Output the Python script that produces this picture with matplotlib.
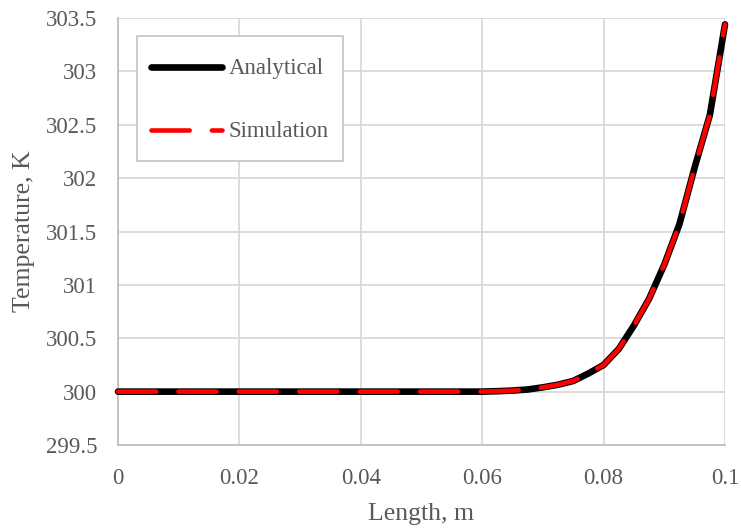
import matplotlib
matplotlib.use("Agg")
import matplotlib.pyplot as plt
import numpy as np
from matplotlib.legend_handler import HandlerLine2D

# ---- data ----
length_m = [0.0, 0.01, 0.02, 0.03, 0.04, 0.05, 0.06, 0.0625, 0.065, 0.0675, 0.07,
            0.0725, 0.075, 0.0775, 0.08, 0.0825, 0.085, 0.0875, 0.09, 0.0925,
            0.095, 0.0975, 0.1]
analytical_K = [300.0, 300.0, 300.0, 300.0, 300.0, 300.0, 300.0, 300.004, 300.01,
                300.02, 300.04, 300.065, 300.1, 300.17, 300.25, 300.4, 300.62,
                300.87, 301.19, 301.57, 302.1, 302.59, 303.44]
simulation_K = [300.0, 300.0, 300.0, 300.0, 300.0, 300.0, 300.0, 300.004, 300.01,
                300.02, 300.04, 300.065, 300.1, 300.17, 300.25, 300.4, 300.62,
                300.87, 301.19, 301.57, 302.1, 302.59, 303.44]
x_ticks = [0, 0.02, 0.04, 0.06, 0.08, 0.1]
x_tick_labels = ["0", "0.02", "0.04", "0.06", "0.08", "0.1"]
y_ticks = [299.5, 300, 300.5, 301, 301.5, 302, 302.5, 303, 303.5]
y_tick_labels = ["299.5", "300", "300.5", "301", "301.5", "302", "302.5", "303", "303.5"]

plt.rcParams['font.family'] = ['Liberation Serif', 'DejaVu Serif']
plt.rcParams['lines.scale_dashes'] = False

text_color = "#595959"
grid_color = "#D9D9D9"


class ShiftedLineHandler(HandlerLine2D):
    """Line legend handler that nudges the handle down to the text's mid-height."""
    def __init__(self, shift=3.5, **kw):
        super().__init__(**kw)
        self.shift = shift

    def create_artists(self, legend, orig_handle, xdescent, ydescent, width,
                       height, fontsize, trans):
        artists = super().create_artists(legend, orig_handle, xdescent, ydescent,
                                         width, height, fontsize, trans)
        for a in artists:
            a.set_ydata(np.asarray(a.get_ydata(), dtype=float) - self.shift)
        return artists


fig = plt.figure(figsize=(7.41, 5.29), dpi=100)
ax = fig.add_axes([118/741, 1 - 445/529, (725-118)/741, (445-18)/529])

l1, = ax.plot(length_m, analytical_K, color="black", lw=4.8, solid_capstyle="round",
              solid_joinstyle="round", label="Analytical", clip_on=False, zorder=3)
l2, = ax.plot(length_m, simulation_K, color="#FF0000", lw=3.3, dash_capstyle="round",
              dash_joinstyle="round", linestyle=(0, (27.5, 16.0)), label="Simulation",
              clip_on=False, zorder=4)

ax.set_xlim(0, 0.1)
ax.set_ylim(299.5, 303.5)
ax.set_xticks(x_ticks)
ax.set_xticklabels(x_tick_labels)
ax.set_yticks(y_ticks)
ax.set_yticklabels(y_tick_labels)

ax.grid(True, color=grid_color, lw=1.3, zorder=0)
ax.set_axisbelow(True)
for s in ["top", "right"]:
    ax.spines[s].set_visible(False)
for s in ["left", "bottom"]:
    ax.spines[s].set_color("#BFBFBF")
    ax.spines[s].set_linewidth(1.3)

ax.tick_params(axis="both", length=0, labelsize=16.5, labelcolor=text_color)
ax.tick_params(axis="y", pad=15)
ax.tick_params(axis="x", pad=16.5)

ax.set_xlabel("Length, m", fontsize=18.5, color=text_color, labelpad=10)
ax.set_ylabel("Temperature, K", fontsize=18.5, color=text_color, labelpad=8)

leg = ax.legend(handles=[l1, l2], loc="upper left", bbox_to_anchor=(0.031, 0.958),
                borderaxespad=0, fontsize=16.5, frameon=True, fancybox=False,
                framealpha=1, edgecolor="#C8C8C8", handlelength=3.1,
                handletextpad=0.3, handleheight=1.9, labelspacing=1.25,
                borderpad=0.62,
                handler_map={l1: ShiftedLineHandler(3.5), l2: ShiftedLineHandler(3.5)})
leg.get_frame().set_linewidth(1.3)
for t in leg.get_texts():
    t.set_color(text_color)

fig.savefig("out.png", dpi=100)
